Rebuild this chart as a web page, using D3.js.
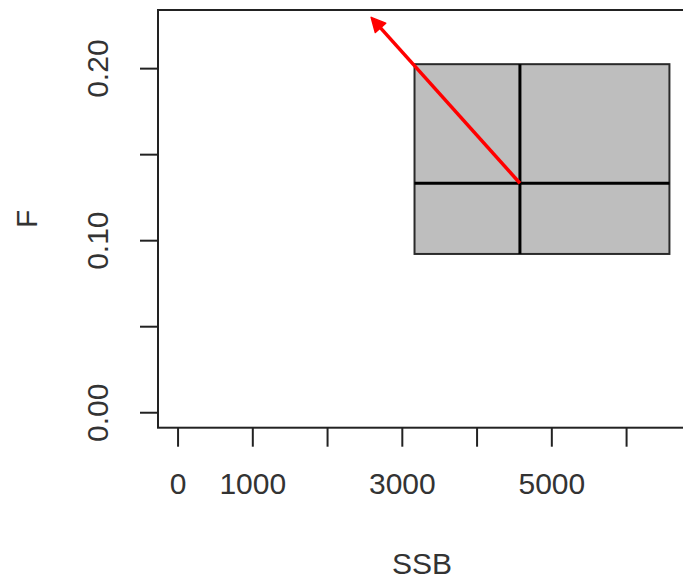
<!DOCTYPE html>
<html>
<head>
<meta charset="utf-8">
<script src="https://cdn.jsdelivr.net/npm/d3@7"></script>
<style>
  html, body { margin: 0; padding: 0; background: #fff; }
  svg { display: block; }
  text { font-family: "Liberation Sans", Arial, sans-serif; fill: #333; }
</style>
</head>
<body>
<script>
// ---- data ----
const xTicks = [0, 1000, 2000, 3000, 4000, 5000, 6000];
const xTickLabels = ["0", "1000", "", "3000", "", "5000", ""];
const yTicks = [0, 0.05, 0.10, 0.15, 0.20];
const yTickLabels = ["0.00", "", "0.10", "", "0.20"];
const ssbInterval = [3170, 6580];   // SSB lower / upper
const fInterval = [0.092, 0.2023];  // F lower / upper
const estimate = [4580, 0.1331];    // SSB, F point estimate
const arrowEnd = [2590, 0.2295];    // SSB, F arrow end point
const xLimits = [0, 6540];
const yLimits = [0, 0.2248];

const W = 683, H = 583;
const plot = { left: 158, right: 686, top: 10, bottom: 427.7 };

const svg = d3.select("body").append("svg").attr("width", W).attr("height", H);

const xPad = (xLimits[1] - xLimits[0]) * 0.04;
const yPad = (yLimits[1] - yLimits[0]) * 0.04;
const x = d3.scaleLinear().domain([xLimits[0] - xPad, xLimits[1] + xPad]).range([plot.left, plot.right]);
const y = d3.scaleLinear().domain([yLimits[0] - yPad, yLimits[1] + yPad]).range([plot.bottom, plot.top]);

// interval box
svg.append("rect")
  .attr("x", x(ssbInterval[0])).attr("y", y(fInterval[1]))
  .attr("width", x(ssbInterval[1]) - x(ssbInterval[0]))
  .attr("height", y(fInterval[0]) - y(fInterval[1]))
  .attr("fill", "#bebebe").attr("stroke", "#2a2a2a").attr("stroke-width", 2);

// cross lines
svg.append("line")
  .attr("x1", x(ssbInterval[0])).attr("x2", x(ssbInterval[1]))
  .attr("y1", y(estimate[1])).attr("y2", y(estimate[1]))
  .attr("stroke", "#000").attr("stroke-width", 3);
svg.append("line")
  .attr("x1", x(estimate[0])).attr("x2", x(estimate[0]))
  .attr("y1", y(fInterval[0])).attr("y2", y(fInterval[1]))
  .attr("stroke", "#000").attr("stroke-width", 3);

// red arrow
const x0 = x(estimate[0]), y0 = y(estimate[1]);
const x1 = x(arrowEnd[0]), y1 = y(arrowEnd[1]);
const ang = Math.atan2(y1 - y0, x1 - x0);
const headLen = 14, headHalf = 7;
const bx = x1 - headLen * Math.cos(ang), by = y1 - headLen * Math.sin(ang);
svg.append("line")
  .attr("x1", x0).attr("y1", y0).attr("x2", bx).attr("y2", by)
  .attr("stroke", "#ff0000").attr("stroke-width", 3.5);
svg.append("polygon")
  .attr("points", [
    [x1, y1],
    [bx + headHalf * Math.sin(ang), by - headHalf * Math.cos(ang)],
    [bx - headHalf * Math.sin(ang), by + headHalf * Math.cos(ang)]
  ].map(p => p.join(",")).join(" "))
  .attr("fill", "#ff0000").attr("stroke", "#ff0000").attr("stroke-width", 1.5)
  .attr("stroke-linejoin", "round");

// plot frame
svg.append("rect")
  .attr("x", plot.left).attr("y", plot.top)
  .attr("width", plot.right - plot.left).attr("height", plot.bottom - plot.top)
  .attr("fill", "none").attr("stroke", "#222").attr("stroke-width", 2);

// x axis
const xAxis = d3.axisBottom(x).tickValues(xTicks).tickSize(19).tickPadding(26)
  .tickFormat((d, i) => xTickLabels[i]);
const gx = svg.append("g").attr("transform", `translate(0,${plot.bottom})`).call(xAxis);
gx.select(".domain").remove();
gx.selectAll(".tick line").attr("stroke", "#222").attr("stroke-width", 2);
gx.selectAll(".tick text").attr("font-size", 30).attr("font-family", "Liberation Sans, Arial, sans-serif").attr("fill", "#333");

// y axis
const yAxis = d3.axisLeft(y).tickValues(yTicks).tickSize(18).tickPadding(0)
  .tickFormat((d, i) => yTickLabels[i]);
const gy = svg.append("g").attr("transform", `translate(${plot.left},0)`).call(yAxis);
gy.select(".domain").remove();
gy.selectAll(".tick line").attr("stroke", "#222").attr("stroke-width", 2);
gy.selectAll(".tick text")
  .attr("font-size", 30).attr("font-family", "Liberation Sans, Arial, sans-serif").attr("fill", "#333")
  .attr("x", null).attr("dy", null)
  .attr("text-anchor", "middle")
  .attr("transform", `translate(${108 - plot.left},0) rotate(-90)`);

// axis titles
svg.append("text").attr("x", (plot.left + plot.right) / 2).attr("y", 574)
  .attr("text-anchor", "middle").attr("font-size", 30).text("SSB");
svg.append("text")
  .attr("transform", `translate(37,${(plot.top + plot.bottom) / 2}) rotate(-90)`)
  .attr("text-anchor", "middle").attr("font-size", 30).text("F");
</script>
</body>
</html>
